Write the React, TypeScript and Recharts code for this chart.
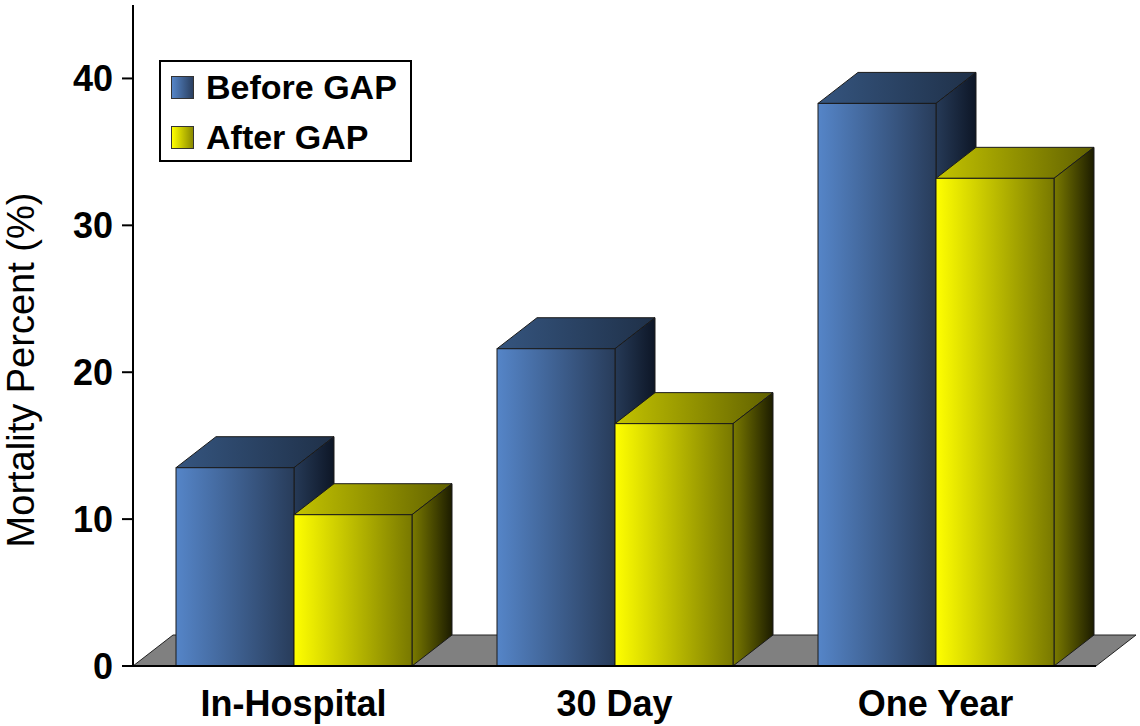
import React from 'react';
import { BarChart, Bar, XAxis, YAxis, ReferenceArea, Label } from 'recharts';

const categories = ['In-Hospital', '30 Day', 'One Year'];
const beforeGap = [13.5, 21.6, 38.3];
const afterGap = [10.3, 16.5, 33.2];
const yTicks = [0, 10, 20, 30, 40];
const bandTicks = [0, 1, 2, 3];

const data = categories.map((name, i) => ({
  name,
  before: beforeGap[i],
  after: afterGap[i],
  band: i + 0.5,
}));

const DX = 40;
const DY = 31;
const FONT = 'Arial, "Liberation Sans", sans-serif';

const Box3D = (id: string) => (props: any) => {
  const { x, y, width, height } = props;
  if (!height || height <= 0) return null;
  const r = x + width;
  const b = y + height;
  const edge = '#1a1a1a';
  return (
    <g>
      <path
        d={`M${x},${y} L${x + DX},${y - DY} L${r + DX},${y - DY} L${r},${y} Z`}
        fill={`url(#${id}-top)`}
        stroke={edge}
        strokeWidth={1}
      />
      <path
        d={`M${r},${y} L${r + DX},${y - DY} L${r + DX},${b - DY} L${r},${b} Z`}
        fill={`url(#${id}-side)`}
        stroke={edge}
        strokeWidth={1}
      />
      <rect x={x} y={y} width={width} height={height} fill={`url(#${id}-front)`} stroke={edge} strokeWidth={1} />
    </g>
  );
};

const Floor = (props: any) => {
  const { x, width, y, height } = props;
  const b = y + height;
  return (
    <path
      d={`M${x},${b} L${x + DX},${b - DY} L${x + width + DX},${b - DY} L${x + width},${b} Z`}
      fill="#808080"
      stroke="#222"
      strokeWidth={1}
    />
  );
};

const YLabel = () => (
  <text
    x={21}
    y={370}
    transform="rotate(-90 21 370)"
    textAnchor="middle"
    dominantBaseline="central"
    fontFamily={FONT}
    fontSize={38}
    fill="#000"
  >
    Mortality Percent (%)
  </text>
);

const legendItems = [
  { label: 'Before GAP', from: '#5686c8', to: '#2a3f60' },
  { label: 'After GAP', from: '#ffff00', to: '#8a8a00' },
];

const Legend3D = () => (
  <div
    style={{
      position: 'absolute',
      left: 159,
      top: 60,
      width: 249,
      height: 98,
      border: '2px solid #000',
      background: '#fff',
      fontFamily: FONT,
      fontWeight: 'bold',
      fontSize: 34,
      lineHeight: '34px',
    }}
  >
    {legendItems.map((it, i) => (
      <div key={it.label} style={{ position: 'absolute', left: 10, top: 4 + i * 50, height: 42, display: 'flex', alignItems: 'center' }}>
        <div
          style={{
            width: 21,
            height: 21,
            border: '1px solid #333',
            background: `linear-gradient(to right, ${it.from}, ${it.to})`,
            marginRight: 12,
          }}
        />
        <span>{it.label}</span>
      </div>
    ))}
  </div>
);

export default function App() {
  return (
    <div style={{ position: 'absolute', left: 0, top: 0, width: 1140, height: 726, background: '#fff' }}>
      <BarChart
        width={1140}
        height={726}
        data={data}
        margin={{ top: 5, right: 44, bottom: 0, left: 0 }}
        barGap={0}
        barSize={118}
      >
        <defs>
          <linearGradient id="blue-front" x1="0" y1="0" x2="1" y2="0">
            <stop offset="0%" stopColor="#5585c8" />
            <stop offset="100%" stopColor="#283c5a" />
          </linearGradient>
          <linearGradient id="blue-top" x1="0" y1="0" x2="1" y2="0">
            <stop offset="0%" stopColor="#35557f" />
            <stop offset="100%" stopColor="#1f3048" />
          </linearGradient>
          <linearGradient id="blue-side" x1="0" y1="0" x2="1" y2="0">
            <stop offset="0%" stopColor="#263a57" />
            <stop offset="100%" stopColor="#0d1626" />
          </linearGradient>
          <linearGradient id="yellow-front" x1="0" y1="0" x2="1" y2="0">
            <stop offset="0%" stopColor="#ffff00" />
            <stop offset="100%" stopColor="#787800" />
          </linearGradient>
          <linearGradient id="yellow-top" x1="0" y1="0" x2="1" y2="0">
            <stop offset="0%" stopColor="#c4c400" />
            <stop offset="100%" stopColor="#606000" />
          </linearGradient>
          <linearGradient id="yellow-side" x1="0" y1="0" x2="1" y2="0">
            <stop offset="0%" stopColor="#7a7a00" />
            <stop offset="100%" stopColor="#1c1c00" />
          </linearGradient>
        </defs>
        <XAxis
          dataKey="name"
          height={59}
          axisLine={{ stroke: '#000', strokeWidth: 2 }}
          tickLine={false}
          tick={{ fill: '#000', fontFamily: FONT, fontWeight: 'bold', fontSize: 36 }}
          tickMargin={18}
        />
        <XAxis
          xAxisId="band"
          type="number"
          dataKey="band"
          domain={[0, 3]}
          ticks={bandTicks}
          axisLine={false}
          tick={false}
          tickSize={12}
          tickLine={{ stroke: '#000', strokeWidth: 2 }}
          height={1}
        />
        <YAxis
          width={133}
          domain={[0, 45]}
          ticks={yTicks}
          axisLine={{ stroke: '#000', strokeWidth: 2 }}
          tickLine={{ stroke: '#000', strokeWidth: 2 }}
          tickSize={11}
          tickMargin={9}
          tick={{ fill: '#000', fontFamily: FONT, fontWeight: 'bold', fontSize: 36 }}
        >
          <Label content={<YLabel />} />
        </YAxis>
        <ReferenceArea y1={0} y2={1} shape={<Floor />} ifOverflow="visible" />
        <Bar dataKey="before" name="Before GAP" shape={Box3D('blue')} isAnimationActive={false} />
        <Bar dataKey="after" name="After GAP" shape={Box3D('yellow')} isAnimationActive={false} />
      </BarChart>
      <Legend3D />
    </div>
  );
}
